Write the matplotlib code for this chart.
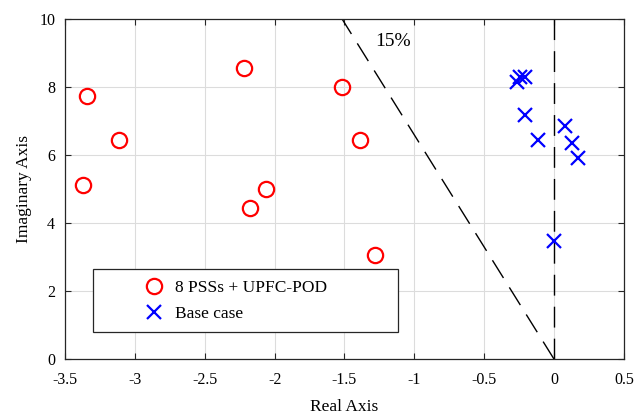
import numpy as np
import matplotlib
matplotlib.use("Agg")
import matplotlib.pyplot as plt
from matplotlib.patches import Rectangle

plt.rcParams['font.family'] = ['Liberation Serif', 'DejaVu Serif']

pss_re = [-3.34, -3.11, -3.37, -2.22, -1.52, -2.06, -2.175, -1.39, -1.28]
pss_im = [7.74, 6.43, 5.13, 8.56, 7.99, 5.01, 4.46, 6.44, 3.07]
base_re = [-0.267, -0.243, -0.208, -0.205, -0.117, 0.079, 0.126, 0.174, 0.0]
base_im = [8.14, 8.29, 8.31, 7.19, 6.45, 6.87, 6.37, 5.93, 3.49]
zeta = 0.15
xticks = [-3.5, -3, -2.5, -2, -1.5, -1, -0.5, 0, 0.5]
xticklabels = ['-3.5', '-3', '-2.5', '-2', '-1.5', '-1', '-0.5', '0', '0.5']
yticks = [0, 2, 4, 6, 8, 10]

fig = plt.figure(figsize=(6.42, 4.16), dpi=100)
ax = fig.add_axes([0.1012, 0.1363, 0.8708, 0.818])
ax.set_xlim(-3.5, 0.5)
ax.set_ylim(0, 10)

ax.grid(True, color='#dcdcdc', linewidth=0.8)
ax.set_axisbelow(True)

# damping line
ymax = 10
slope = np.sqrt(1 - zeta**2) / zeta
ax.plot([0, -ymax / slope], [0, ymax], color='black', linestyle=(0, (15, 8)), linewidth=1.0)
ax.plot([0, 0], [0, 10], color='black', linestyle=(0, (15, 8)), linewidth=1.0)
ax.text(-1.15, 9.33, '15%', fontsize=14, ha='center', va='center')

ax.plot(pss_re, pss_im, linestyle='none', marker='o', markersize=11, markerfacecolor='none',
        markeredgecolor='#ff0000', markeredgewidth=1.6, label='8 PSSs + UPFC-POD')
ax.plot(base_re, base_im, linestyle='none', marker='x', markersize=10,
        markeredgecolor='#0000ff', markeredgewidth=1.6, label='Base case')

ax.set_xticks(xticks)
ax.set_xticklabels(xticklabels)
ax.set_yticks(yticks)
ax.tick_params(direction='in', top=True, right=True, length=4, width=0.8, colors='#262626',
               labelsize=11.5, labelcolor='black')
ax.tick_params(axis='x', pad=9)
ax.tick_params(axis='y', pad=7)
for s in ax.spines.values():
    s.set_color('#262626')
    s.set_linewidth(0.9)

ax.set_xlabel('Real Axis', fontsize=12.5, labelpad=8)
ax.set_ylabel('Imaginary Axis', fontsize=12.5, labelpad=5)

# legend frame
ax.add_patch(Rectangle((0.0496, 0.08), 0.546, 0.186, transform=ax.transAxes,
                       facecolor='white', edgecolor='#262626', linewidth=0.9, zorder=4))
leg = ax.legend(loc='center left', bbox_to_anchor=(0.134, 0.171), frameon=False,
                fontsize=12.5, borderaxespad=0, borderpad=0, handletextpad=0.42,
                labelspacing=0.55, handlelength=1.6)
leg.set_zorder(5)

fig.savefig('out.png', dpi=100)
